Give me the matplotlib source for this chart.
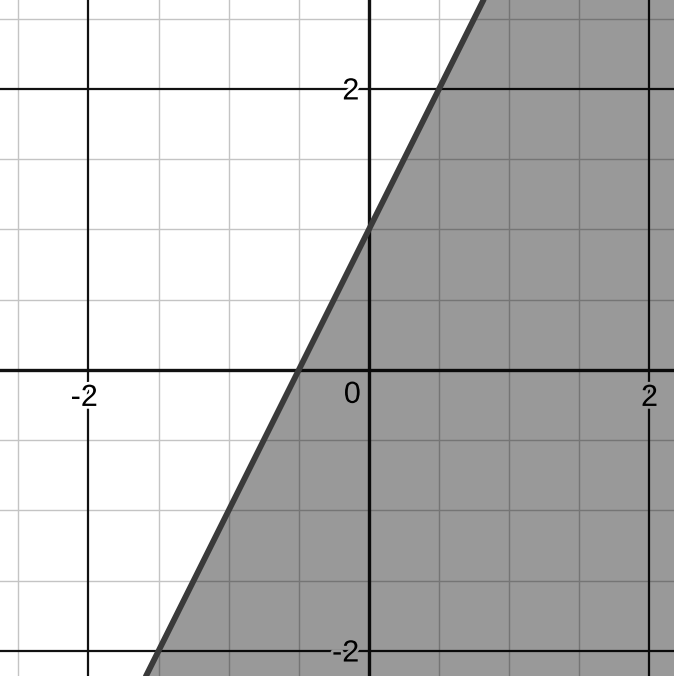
import numpy as np
import matplotlib
matplotlib.use("Agg")
import matplotlib.pyplot as plt
import matplotlib.patheffects as pe

# Inequality: y < slope*x + intercept
slope = 2.0
intercept = 1.0
x_range = [-2.63, 2.175]
y_range = [-2.178, 2.633]
minor_step = 0.5
major_ticks = [-2, 0, 2]
x_tick_labels = ["-2", "0", "2"]
y_tick_labels = ["-2", "2"]
y_tick_values = [-2, 2]

fig = plt.figure(figsize=(6.74, 6.76), dpi=100)
ax = fig.add_axes([0, 0, 1, 1])
ax.set_xlim(*x_range)
ax.set_ylim(*y_range)
ax.axis("off")

# minor grid
for v in np.arange(-3, 3.01, minor_step):
    if v in major_ticks:
        continue
    ax.axvline(v, color="#c4c4c4", lw=1.0, zorder=1)
    ax.axhline(v, color="#c4c4c4", lw=1.0, zorder=1)
# major grid
for v in major_ticks:
    if v == 0:
        continue
    ax.axvline(v, color="#111111", lw=1.6, zorder=2)
    ax.axhline(v, color="#111111", lw=1.6, zorder=2)
# axes
ax.axvline(0, color="#111111", lw=2.4, zorder=3)
ax.axhline(0, color="#111111", lw=2.4, zorder=3)

font = dict(family=["Liberation Sans", "DejaVu Sans"], fontsize=22, color="black")
halo = [pe.withStroke(linewidth=4, foreground="white")]

# x labels
for v, lab in zip(major_ticks, x_tick_labels):
    if v == 0:
        ax.annotate(lab, (0, 0), xytext=(-11.9, -23.7), textcoords="offset points",
                    ha="center", va="baseline", zorder=4, path_effects=halo, **font)
    else:
        dx = -3.0 if lab.startswith("-") else 0.0
        ax.annotate(lab, (v, 0), xytext=(dx, -25.9), textcoords="offset points",
                    ha="center", va="baseline", zorder=4, path_effects=halo, **font)
# y labels
for v, lab in zip(y_tick_values, y_tick_labels):
    ax.annotate(lab, (0, v), xytext=(-7, -7.6), textcoords="offset points",
                ha="right", va="baseline", zorder=4, path_effects=halo, **font)

# shaded region
xs = np.linspace(x_range[0], x_range[1], 500)
ys = np.clip(slope * xs + intercept, y_range[0], y_range[1])
ax.fill_between(xs, y_range[0], ys, color="black", alpha=0.4, lw=0, zorder=5)

# boundary line
ax.plot(xs, slope * xs + intercept, color="#3a3a3a", lw=4.2, zorder=6,
        solid_capstyle="butt")

fig.savefig("out.png", dpi=100)
